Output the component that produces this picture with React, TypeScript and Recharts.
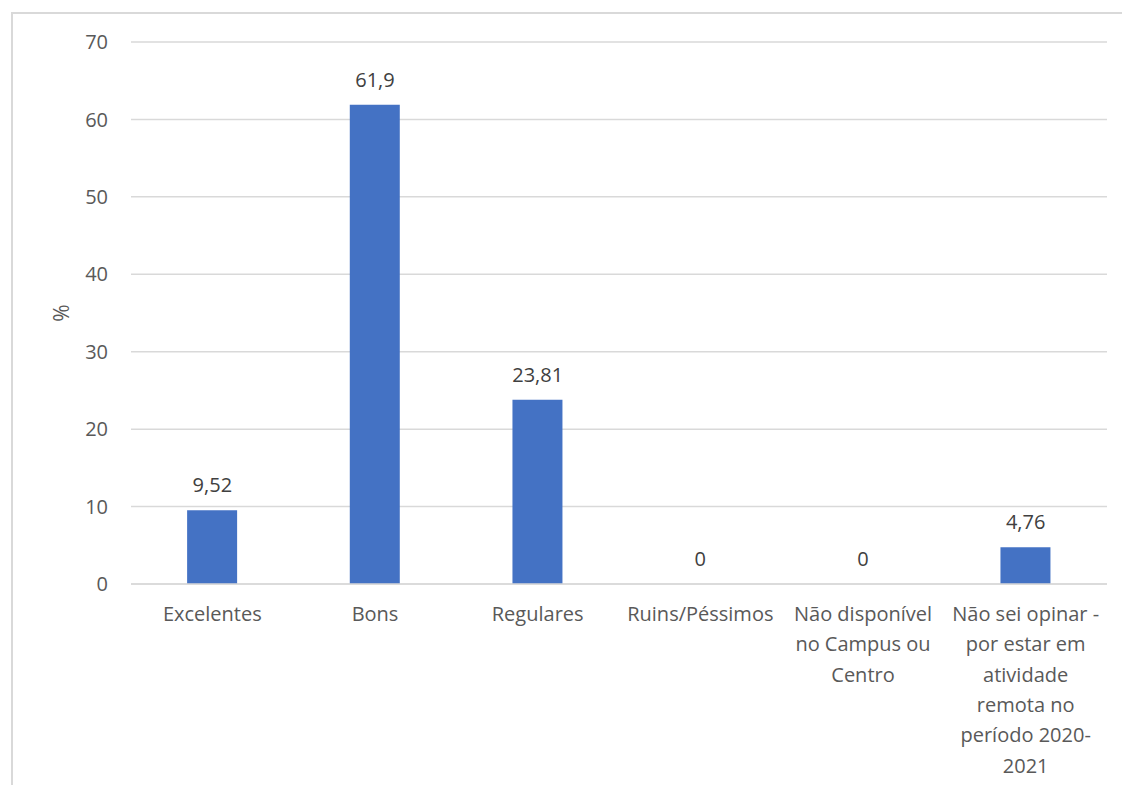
import React from "react";
import { ComposedChart, Bar, Line, XAxis, YAxis, CartesianGrid, LabelList, Label } from "recharts";

const categories = [
  "Excelentes",
  "Bons",
  "Regulares",
  "Ruins/Péssimos",
  "Não disponível no Campus ou Centro",
  "Não sei opinar - por estar em atividade remota no período 2020-2021",
];
const categoryLines: string[][] = [
  ["Excelentes"],
  ["Bons"],
  ["Regulares"],
  ["Ruins/Péssimos"],
  ["Não disponível", "no Campus ou", "Centro"],
  ["Não sei opinar -", "por estar em", "atividade", "remota no", "período 2020-", "2021"],
];
const values = [9.52, 61.9, 23.81, 0, 0, 4.76];
const yTicks = [0, 10, 20, 30, 40, 50, 60, 70];

const data = categories.map((c, i) => ({ name: c, idx: i, value: values[i] }));

const FONT = "'Open Sans', sans-serif";
const TEXT = "#595959";
const FS = 20;

const XTick = (props: any) => {
  const { x, y, payload } = props;
  const lines = categoryLines[payload.index] || [String(payload.value)];
  return (
    <text x={x} y={y} textAnchor="middle" fill={TEXT} fontFamily={FONT} fontSize={FS}>
      {lines.map((l, i) => (
        <tspan key={i} x={x} dy={i === 0 ? 29 : 30.3}>
          {l}
        </tspan>
      ))}
    </text>
  );
};

export default function App() {
  return (
    <div style={{ position: "absolute", left: 0, top: 0, width: 1122, height: 785, background: "#fff", overflow: "hidden" }}>
      <div
        style={{
          position: "absolute",
          left: 11,
          top: 12,
          width: 1200,
          height: 900,
          borderLeft: "2px solid #d9d9d9",
          borderTop: "2px solid #d9d9d9",
        }}
      />
      <div style={{ position: "absolute", left: 0, top: 0 }}>
        <ComposedChart
          width={1122}
          height={785}
          data={data}
          margin={{ top: 42, right: 15, bottom: 11, left: 31 }}
          barCategoryGap="34.5%"
        >
          <CartesianGrid vertical={false} stroke="#d9d9d9" strokeWidth={1.5} />
          <XAxis
            dataKey="name"
            axisLine={{ stroke: "#d9d9d9", strokeWidth: 1.5 }}
            tickLine={false}
            height={190}
            interval={0}
            tick={<XTick />}
          />
          <YAxis
            domain={[0, 70]}
            ticks={yTicks}
            axisLine={false}
            tickLine={false}
            tickSize={0}
            tickMargin={23}
            width={100}
            tick={{ fill: TEXT, fontFamily: FONT, fontSize: FS }}
          >
            <Label
              value="%"
              angle={-90}
              position="insideLeft"
              offset={31}
              style={{ fill: TEXT, fontFamily: FONT, fontSize: 21, textAnchor: "middle" }}
            />
          </YAxis>
          <Bar dataKey="value" fill="#4472C4" isAnimationActive={false} />
          <Line dataKey="value" stroke="none" dot={false} activeDot={false} legendType="none" isAnimationActive={false}>
            <LabelList
              dataKey="value"
              position="top"
              offset={18}
              formatter={(v: any) => String(v).replace(".", ",")}
              style={{ fill: "#404040", fontFamily: FONT, fontSize: FS }}
            />
          </Line>
        </ComposedChart>
      </div>
    </div>
  );
}
